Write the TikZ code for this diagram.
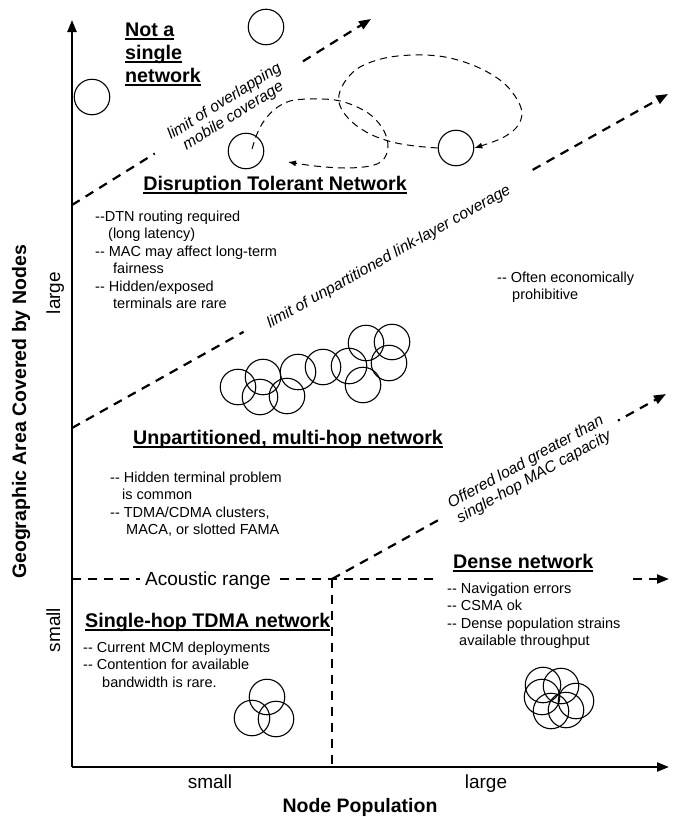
\documentclass[tikz,border=0pt]{standalone}
\usepackage{fontspec}
\setmainfont{Liberation Sans}
\usetikzlibrary{arrows.meta}
\newcommand\ulb[1]{\setbox0=\hbox{#1}\leavevmode\rlap{\vrule height -2.2pt depth 3.8pt width \wd0}\box0}
\newcommand\hh{-\kern0pt-}
\begin{document}
\begin{tikzpicture}[x=1pt,y=-1pt,
  axis/.style={line width=2.3pt, -{Triangle[length=12pt,width=9pt]}},
  bnd/.style={line width=2.2pt, dash pattern=on 9pt off 7pt},
  bndarrow/.style={bnd, -{Triangle[length=12pt,width=9pt]}},
  head/.style={font=\fontsize{19.7}{23}\selectfont\bfseries, inner sep=0pt, align=left},
  body/.style={font=\fontsize{14.5}{17.5}\selectfont, inner sep=0pt, align=left},
  lim/.style={font=\fontsize{15.7}{17}\selectfont\itshape, fill=white, inner ysep=1pt, align=center},
  tick/.style={font=\fontsize{19}{23}\selectfont, inner sep=0pt},
  circ/.style={draw, circle, minimum size=35.5pt, inner sep=0pt, line width=1.1pt},
  loopline/.style={line width=1pt, dash pattern=on 7pt off 5pt, -{Latex[length=8pt,width=6pt]}},
]
\useasboundingbox (0,0) rectangle (678,817);

% axes
\coordinate (O) at (72,767);
\coordinate (Ytop) at (72,20);
\coordinate (Xend) at (669,767);
\draw[axis] (O) -- (Ytop);
\draw[axis] (O) -- (Xend);

% acoustic range
\coordinate (acL) at (72,579);
\coordinate (acM) at (332,579);
\coordinate (acG1) at (437,579);
\coordinate (acG2) at (633,579);
\coordinate (acR) at (669,579);
\coordinate (vb) at (332,767);
\draw[bnd] (acL) -- (acG1);
\draw[bndarrow] (acG2) -- (acR);
\draw[bnd] (acM) -- (vb);
\node[fill=white, inner xsep=5pt, inner ysep=2pt, font=\fontsize{19}{23}\selectfont, anchor=base] (acoustic) at (208,585) {Acoustic range};

% diagonal boundaries
\coordinate (d1s) at (72,205);
\coordinate (d1e) at (371,19);
\coordinate (d2s) at (72,428);
\coordinate (d2e) at (668,94);
\coordinate (d3e) at (666,394);
\draw[bndarrow] (d1s) -- (d1e);
\draw[bndarrow] (d2s) -- (d2e);
\draw[bndarrow] (acM) -- (d3e);
\node[lim, rotate=31.9, inner xsep=21pt] (lim1) at (229,109) {limit of overlapping\\mobile coverage};
\node[lim, rotate=29.3, inner xsep=25pt] (lim2) at (389,257) {limit of unpartitioned link-layer coverage};
\node[lim, rotate=29.0, inner xsep=13pt] (lim3) at (530,470) {Offered load greater than\\single-hop MAC capacity};

% circles (DTN)
\node[circ] (cTop) at (266,27) {};
\node[circ] (cLeft) at (92,97) {};
\node[circ] (cD1) at (246,151) {};
\node[circ] (cD2) at (456,148) {};

% motion loops
\draw[loopline] plot[smooth, tension=0.6] coordinates {(252,149) (257,134) (264,121) (275,109) (290,101) (310,99) (335,100) (355,106) (372,116) (384,131) (388,147) (383,160) (370,166) (345,168) (315,166) (288,162)};
\draw[loopline] plot[smooth, tension=0.6] coordinates {(cD2.west) (415,146) (392,142) (370,134) (352,122) (341,108) (339,95) (346,80) (360,67) (385,58) (415,55) (445,57) (475,66) (500,80) (515,96) (522,113) (516,128) (500,139) (cD2.east)};

% multi-hop cluster
\foreach \p [count=\i] in {(238,387),(263,377),(260,397),(287,396),(298,372),(323,367),(349,366),(363,385),(366,343),(392,342),(389,363)}
  \node[circ] (m\i) at \p {};

% single-hop cluster
\node[circ] (s1) at (267,697) {};
\node[circ] (s2) at (252,718) {};
\node[circ] (s3) at (276,719) {};

% dense cluster
\foreach \p [count=\i] in {(543,685),(561,686),(576,701),(566,710),(551,711),(542,697)}
  \node[circ] (d\i) at \p {};

% headings (base anchor = baseline of last line)
\node[head, anchor=base west] (nasn) at (125,82) {\ulb{Not a}\\\ulb{single}\\\ulb{network}};
\node[head, anchor=base] (dtn) at (275,190) {\ulb{Disruption Tolerant Network}};
\node[head, anchor=base west] (umh) at (133,444) {\ulb{Unpartitioned, multi-hop network}};
\node[head, anchor=base west] (dense) at (453,568) {\ulb{Dense network}};
\node[head, anchor=base west] (shop) at (85,627) {\ulb{Single-hop TDMA network}};

% bodies
\node[body, anchor=base west] (dtntxt) at (95,308.5) {\hh DTN routing required\\\hspace*{13pt}(long latency)\\\hh{} MAC may affect long-term\\\hspace*{18pt}fairness\\\hh{} Hidden/exposed\\\hspace*{18pt}terminals are rare};
\node[body, anchor=base west] (econ) at (497,299.5) {\hh{} Often economically\\\hspace*{15pt}prohibitive};
\node[body, anchor=base west] (umhtxt) at (110,534.5) {\hh{} Hidden terminal problem\\\hspace*{12pt}is common\\\hh{} TDMA/CDMA clusters,\\\hspace*{16pt}MACA, or slotted FAMA};
\node[body, anchor=base west] (densetxt) at (447,645.5) {\hh{} Navigation errors\\\hh{} CSMA ok\\\hh{} Dense population strains\\\hspace*{12pt}available throughput};
\node[body, anchor=base west] (shoptxt) at (83,687) {\hh{} Current MCM deployments\\\hh{} Contention for available\\\hspace*{19pt}bandwidth is rare.};

% axis labels
\node[font=\fontsize{19.5}{23}\selectfont\bfseries, rotate=90, anchor=base, inner sep=0pt] (ylab) at (26,412) {Geographic Area Covered by Nodes};
\node[tick, rotate=90, anchor=base] (ylarge) at (60,293) {large};
\node[tick, rotate=90, anchor=base] (ysmall) at (60,630) {small};
\node[tick, anchor=base] (xsmall) at (210,788) {small};
\node[tick, anchor=base] (xlarge) at (486,788) {large};
\node[font=\fontsize{19.5}{23}\selectfont\bfseries, anchor=base, inner sep=0pt] (xlab) at (360,812) {Node Population};
\end{tikzpicture}
\end{document}
